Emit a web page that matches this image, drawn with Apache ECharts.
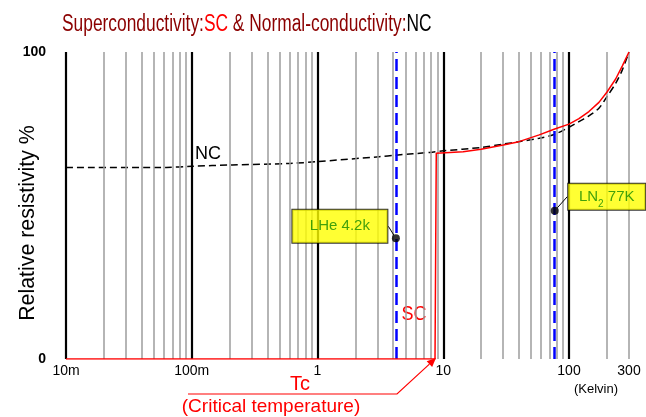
<!DOCTYPE html>
<html>
<head>
<meta charset="utf-8">
<script src="https://cdn.jsdelivr.net/npm/echarts@6/dist/echarts.min.js"></script>
<style>
  html, body { margin: 0; padding: 0; background: #fff; }
  #chart { width: 646px; height: 417px; }
</style>
</head>
<body>
<div id="chart"></div>
<script>
// temperatures (K) and relative resistivity (%)
var ncTemps  = [0.01, 0.063, 0.1, 0.21, 0.6, 1, 3.1, 4.2, 7.8, 10, 20, 30, 40, 58, 77, 100, 120, 144, 173, 200, 235, 265, 300];
var ncLevels = [62.4, 62.4, 62.8, 63.2, 63.7, 64.3, 65.9, 66.4, 67.3, 67.8, 68.9, 70.0, 70.8, 71.9, 73.2, 75.5, 77.3, 79.2, 81.7, 85.4, 89.8, 94.1, 100];

var scTemps  = [0.01, 8.6, 8.8, 14.4, 20, 30, 40, 58, 77, 100, 120, 144, 173, 200, 235, 265, 300];
var scLevels = [0, 0, 67.0, 67.5, 68.3, 69.7, 70.8, 73.0, 74.9, 76.5, 78.3, 80.6, 83.6, 86.9, 91.2, 95.4, 100];

var tcTemp = 8.6;

// cryogen markers
var coolantTemps  = [4.2, 77];
var coolantLevels = [39.3, 48.3];
var coolantNames  = ['LHe 4.2k', '{a|LN}{s|2}{a| 77K}'];

// axis
var tickValues = [0.01, 0.1, 1, 10, 100, 300];
var tickLabels = ['10m', '100m', '1', '10', '100', '300'];
var decadeLines = [0.01, 0.1, 1, 10, 100];
var minorMultipliers = [2, 3, 4, 5, 6, 7, 8, 9];

var minorLines = [];
for (var d = 0; d < 4; d++) {
    for (var m = 0; m < minorMultipliers.length; m++) {
        minorLines.push(+(decadeLines[d] * minorMultipliers[m]).toPrecision(3));
    }
}
minorLines.push(200, 300);

function zip(a, b) {
    var out = [];
    for (var i = 0; i < a.length; i++) out.push([a[i], b[i]]);
    return out;
}

var sans = "'Liberation Sans', Arial, sans-serif";
var green = '#138a00';

// label boxes (yellow) for the two coolants
var boxSizes = [[95, 33], [77, 26]];
var boxShift = [[-56, -12], [52, -14]];

var markerData = coolantTemps.map(function (t, i) {
    return {
        value: [t, coolantLevels[i]],
        label: { width: boxSizes[i][0], height: boxSizes[i][1], lineHeight: boxSizes[i][1] }
    };
});

var myChart = echarts.init(document.getElementById('chart'));

var option = {
    animation: false,
    grid: {
        left: 66,
        right: 17,
        top: 52,
        bottom: 58,
        containLabel: false,
        outerBoundsMode: 'none'
    },
    xAxis: {
        type: 'log',
        logBase: 10,
        min: 0.01,
        max: 300,
        axisLine: { show: false },
        axisTick: { show: false },
        splitLine: { show: false },
        minorTick: { show: false },
        minorSplitLine: { show: false },
        axisLabel: {
            show: true,
            margin: 5,
            showMinLabel: true,
            showMaxLabel: true,
            color: '#000',
            fontSize: 14,
            fontFamily: sans,
            formatter: function (v) {
                for (var i = 0; i < tickValues.length; i++) {
                    if (Math.abs(Math.log10(v) - Math.log10(tickValues[i])) < 0.01) return tickLabels[i];
                }
                return '';
            }
        }
    },
    yAxis: {
        type: 'value',
        min: 0,
        max: 100,
        interval: 100,
        axisLine: { show: false },
        axisTick: { show: false },
        splitLine: { show: false },
        axisLabel: {
            margin: 20,
            color: '#000',
            fontSize: 14,
            fontWeight: 'bold',
            fontFamily: sans
        }
    },
    series: [
        {
            name: 'minor grid',
            type: 'line',
            data: [],
            silent: true,
            z: 1,
            markLine: {
                silent: true,
                symbol: ['none', 'none'],
                label: { show: false },
                lineStyle: { color: '#9c9c9c', width: 1.5, type: 'solid' },
                data: minorLines.map(function (v) { return { xAxis: v }; })
            }
        },
        {
            name: 'decade grid',
            type: 'line',
            data: [],
            silent: true,
            z: 2,
            markLine: {
                silent: true,
                symbol: ['none', 'none'],
                label: { show: false },
                lineStyle: { color: '#000000', width: 2.2, type: 'solid' },
                data: decadeLines.map(function (v) { return { xAxis: v }; })
            }
        },
        {
            name: 'coolants',
            type: 'line',
            data: [],
            silent: true,
            z: 3,
            markLine: {
                silent: true,
                symbol: ['none', 'none'],
                label: { show: false },
                lineStyle: { color: '#0000ff', width: 2.5, type: [12, 6] },
                data: coolantTemps.map(function (v) { return { xAxis: v }; })
            }
        },
        {
            name: 'NC',
            type: 'line',
            data: zip(ncTemps, ncLevels),
            showSymbol: false,
            smooth: 0.3,
            z: 4,
            lineStyle: { color: '#000', width: 1.5, type: [7, 4] }
        },
        {
            name: 'SC',
            type: 'line',
            data: zip(scTemps, scLevels),
            showSymbol: false,
            z: 5,
            lineStyle: { color: '#ff0000', width: 1.5 }
        },
        {
            name: 'markers',
            type: 'scatter',
            z: 6,
            symbol: 'circle',
            symbolSize: 8,
            itemStyle: { color: '#000' },
            data: markerData,
            label: {
                show: true,
                position: 'inside',
                formatter: function (p) { return coolantNames[p.dataIndex]; },
                backgroundColor: '#ffff00',
                borderColor: '#000',
                borderWidth: 1,
                padding: 0,
                align: 'center',
                verticalAlign: 'middle',
                color: green,
                fontSize: 15,
                fontFamily: sans,
                rich: {
                    a: { color: green, fontSize: 15, fontFamily: sans },
                    s: { color: green, fontSize: 10, fontFamily: sans, verticalAlign: 'bottom' }
                }
            },
            labelLayout: function (params) {
                var s = boxShift[params.dataIndex];
                return { dx: s[0], dy: s[1] };
            },
            labelLine: {
                show: true,
                lineStyle: { color: '#000', width: 1 }
            }
        }
    ]
};

myChart.setOption(option);

// free text annotations, the Tc arrow tip follows the data point
var tip = myChart.convertToPixel({ gridIndex: 0 }, [tcTemp, 0]);
var tipX = tip[0] + 1, tipY = tip[1] - 1;
var elbowX = 397, elbowY = 394;
var ang = Math.atan2(tipY - elbowY, tipX - elbowX);
var ah = 9, aw = 4;
var bx = tipX - ah * Math.cos(ang), by = tipY - ah * Math.sin(ang);
var arrowHead = [
    [tipX, tipY],
    [bx + aw * Math.sin(ang), by - aw * Math.cos(ang)],
    [bx - aw * Math.sin(ang), by + aw * Math.cos(ang)]
];

myChart.setOption({
    graphic: [
        {
            // title, squeezed sideways like the narrow face in the original
            type: 'text', x: 62, y: 25, scaleX: 0.755,
            style: {
                text: '{d|Superconductivity:}{r|SC}{d| & Normal-conductivity:}{k|NC}',
                verticalAlign: 'middle',
                rich: {
                    d: { fill: '#8b0000', font: '23px ' + sans },
                    r: { fill: '#ff0000', font: '23px ' + sans },
                    k: { fill: '#000000', font: '23px ' + sans }
                }
            }
        },
        {
            type: 'text', x: 28, y: 223, rotation: Math.PI / 2, scaleX: 0.97,
            style: { text: 'Relative resistivity %', align: 'center', verticalAlign: 'middle',
                     fill: '#000', font: '22px ' + sans }
        },
        {
            type: 'text', x: 208, y: 154,
            style: { text: 'NC', align: 'center', verticalAlign: 'middle', fill: '#000', font: '18px ' + sans }
        },
        {
            type: 'text', x: 414, y: 314, scaleX: 0.9,
            style: { text: 'SC', align: 'center', verticalAlign: 'middle', fill: '#ff0000', font: '20px ' + sans }
        },
        {
            type: 'text', x: 300, y: 384,
            style: { text: 'Tc', align: 'center', verticalAlign: 'middle', fill: '#ff0000', font: '20px ' + sans }
        },
        {
            type: 'text', x: 271, y: 407,
            style: { text: '(Critical temperature)', align: 'center', verticalAlign: 'middle', fill: '#ff0000', font: '19px ' + sans }
        },
        {
            type: 'text', x: 596, y: 389,
            style: { text: '(Kelvin)', align: 'center', verticalAlign: 'middle', fill: '#000', font: '13px ' + sans }
        },
        {
            type: 'polyline',
            shape: { points: [[188, elbowY], [elbowX, elbowY], [bx, by]] },
            style: { stroke: '#ff0000', lineWidth: 1.2, fill: null }
        },
        {
            type: 'polygon',
            shape: { points: arrowHead },
            style: { fill: '#ff0000' }
        }
    ]
});

window.addEventListener('resize', function () {
    myChart.resize();
});
</script>
</body>
</html>
